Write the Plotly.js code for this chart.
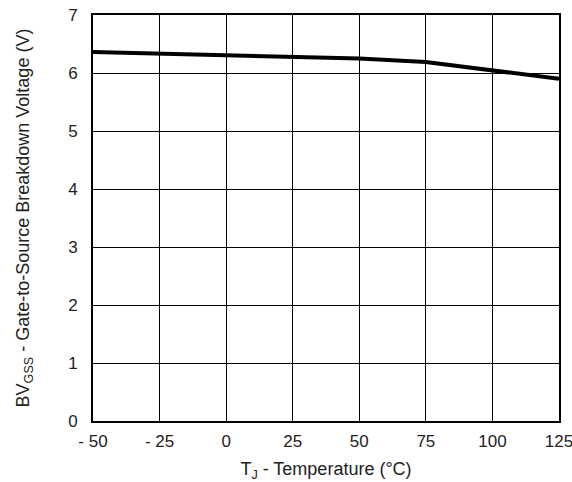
<!DOCTYPE html>
<html>
<head>
<meta charset="utf-8">
<script src="https://cdn.plot.ly/plotly-3.0.1.min.js"></script>
<style>html,body{margin:0;padding:0;background:#fff;}#chart{width:572px;height:482px;}</style>
</head>
<body>
<div id="chart"></div>
<script>
var temperature = [-50, -25, 0, 25, 50, 75, 100, 125];
var bvgss = [6.36, 6.33, 6.31, 6.28, 6.25, 6.19, 6.04, 5.90];
var xTickVals = [-50, -25, 0, 25, 50, 75, 100, 125];
var xTickText = ['- 50', '- 25', '0', '25', '50', '75', '100', '125'];
var yTickVals = [0, 1, 2, 3, 4, 5, 6, 7];

var font = 'Liberation Sans, Arial, Helvetica, sans-serif';
Plotly.newPlot('chart', [{
  x: temperature, y: bvgss, type: 'scatter', mode: 'lines',
  line: {color: '#000', width: 4}, hoverinfo: 'skip'
}], {
  width: 572, height: 482,
  margin: {l: 93, r: 13, t: 15, b: 61},
  paper_bgcolor: '#fff', plot_bgcolor: '#fff',
  showlegend: false,
  font: {family: font, size: 17, color: '#222'},
  xaxis: {
    range: [-50, 125], tickvals: xTickVals, ticktext: xTickText,
    showgrid: true, gridcolor: '#000', gridwidth: 1,
    showline: true, linecolor: '#000', linewidth: 2, mirror: true,
    ticks: '', zeroline: false, ticklabelstandoff: 4, ticklabeloverflow: 'allow',
    tickfont: {family: font, size: 17, color: '#222'},
    title: {text: 'T<sub>J</sub> - Temperature (°C)', font: {family: font, size: 18, color: '#222'}, standoff: 13}
  },
  yaxis: {
    range: [0, 7], tickvals: yTickVals,
    showgrid: true, gridcolor: '#000', gridwidth: 1,
    showline: true, linecolor: '#000', linewidth: 2, mirror: true,
    ticks: '', zeroline: false, ticklabelstandoff: 10, ticklabeloverflow: 'allow',
    tickfont: {family: font, size: 17, color: '#222'},
    title: {text: 'BV<sub>GSS</sub> - Gate-to-Source Breakdown Voltage (V)', font: {family: font, size: 18, color: '#222'}, standoff: 34}
  }
}, {staticPlot: true});
</script>
</body>
</html>
